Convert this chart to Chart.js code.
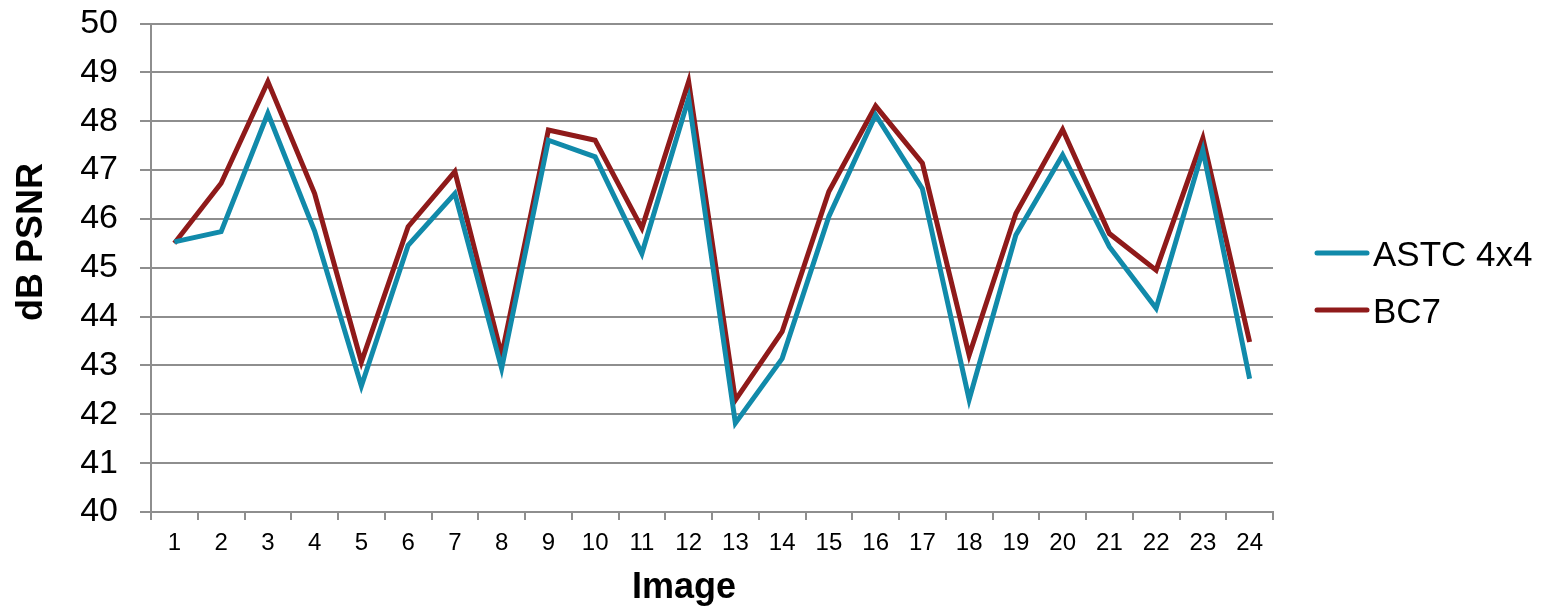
<!DOCTYPE html>
<html>
<head>
<meta charset="utf-8">
<script src="https://cdn.jsdelivr.net/npm/chart.js@4/dist/chart.umd.min.js"></script>
<style>
  html, body { margin: 0; padding: 0; background: #fff; }
  #wrap { width: 1550px; height: 609px; position: relative; }
</style>
</head>
<body>
<div id="wrap"><canvas id="c" width="1550" height="609"></canvas></div>
<script>
// Image numbers on the x axis
const images = ['1','2','3','4','5','6','7','8','9','10','11','12','13','14','15','16','17','18','19','20','21','22','23','24'];

// PSNR (dB) per image for each codec
const astc4x4 = [45.53, 45.74, 48.16, 45.75, 42.58, 45.46, 46.52, 42.94, 47.61, 47.27, 45.29, 48.47,
                 41.82, 43.14, 46.05, 48.13, 46.62, 42.30, 45.67, 47.31, 45.43, 44.17, 47.41, 42.73];
const bc7     = [45.50, 46.73, 48.81, 46.52, 43.07, 45.84, 46.97, 43.21, 47.82, 47.61, 45.81, 48.81,
                 42.29, 43.69, 46.56, 48.31, 47.14, 43.21, 46.11, 47.83, 45.70, 44.95, 47.65, 43.48];

// Y axis range and step
const yMin = 40, yMax = 50, yStep = 1;

// Axis titles
const xTitle = 'Image';
const yTitle = 'dB PSNR';

const FONT = '"Liberation Sans", Arial, sans-serif';
const GRID = '#8e8e8e';

// Axis titles (placed relative to the whole figure) and the legend on the right
const decorations = {
  id: 'decorations',
  afterDraw(chart) {
    const ctx = chart.ctx;
    ctx.save();
    ctx.fillStyle = '#000';
    ctx.font = 'bold 36px ' + FONT;
    ctx.textAlign = 'center';
    ctx.textBaseline = 'alphabetic';
    ctx.fillText(xTitle, 684, 598);

    ctx.save();
    ctx.translate(42, 242);
    ctx.rotate(-Math.PI / 2);
    ctx.fillText(yTitle, 0, 0);
    ctx.restore();

    const x0 = 1317, len = 50, gap = 57, yFirst = 253;
    chart.data.datasets.forEach((ds, i) => {
      const y = yFirst + i * gap;
      ctx.strokeStyle = ds.borderColor;
      ctx.lineWidth = 5;
      ctx.lineCap = 'round';
      ctx.beginPath();
      ctx.moveTo(x0, y);
      ctx.lineTo(x0 + len, y);
      ctx.stroke();
      ctx.fillStyle = '#000';
      ctx.font = '35px ' + FONT;
      ctx.textAlign = 'left';
      ctx.textBaseline = 'alphabetic';
      ctx.fillText(ds.label, 1373, y + 12.5);
    });
    ctx.restore();
  }
};

new Chart(document.getElementById('c'), {
  type: 'line',
  data: {
    labels: images,
    datasets: [
      { label: 'ASTC 4x4', data: astc4x4, borderColor: '#118aaa', borderWidth: 5,
        pointRadius: 0, tension: 0, fill: false, borderJoinStyle: 'miter' },
      { label: 'BC7', data: bc7, borderColor: '#8f1a1a', borderWidth: 5,
        pointRadius: 0, tension: 0, fill: false, borderJoinStyle: 'miter' }
    ]
  },
  options: {
    responsive: false,
    animation: false,
    devicePixelRatio: 1,
    layout: { padding: { top: 23.5, right: 277, left: 0, bottom: 0 } },
    plugins: { legend: { display: false }, tooltip: { enabled: false } },
    scales: {
      x: {
        offset: true,
        grid: { offset: true, drawOnChartArea: false, color: GRID, lineWidth: 2, tickLength: 8 },
        border: { color: GRID, width: 2 },
        ticks: { color: '#000', font: { family: FONT, size: 24 }, padding: 9, maxRotation: 0, autoSkip: false },
        afterFit(scale) { scale.height = 97; }
      },
      y: {
        min: yMin, max: yMax,
        grid: { color: GRID, lineWidth: 2, tickLength: 11 },
        border: { color: GRID, width: 2 },
        ticks: { stepSize: yStep, color: '#000', font: { family: FONT, size: 34 }, padding: 22 },
        afterFit(scale) {
          scale.width = 151;
          scale.paddingTop = 0;
          scale.paddingBottom = 0;
        }
      }
    }
  },
  plugins: [decorations]
});
</script>
</body>
</html>
